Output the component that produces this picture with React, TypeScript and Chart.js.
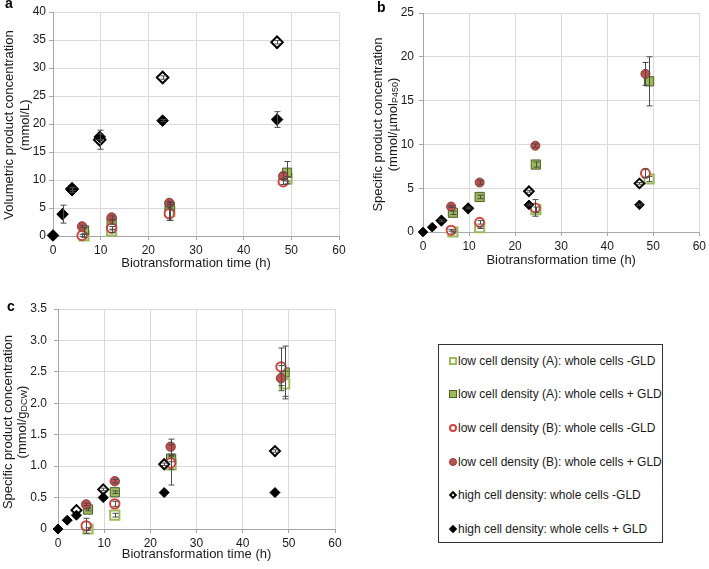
import React, { useEffect, useRef } from "react";
import { Chart, registerables } from "chart.js";
Chart.register(...registerables);

const FONT = '"Liberation Sans", Arial, Helvetica, sans-serif';

// ---------- shared time values (h) ----------
const timesLowA = [6.5, 12.3, 24.5, 49.1];
const timesLowB = [6.1, 12.3, 24.4, 48.3];
const timesHighOpen = [4, 9.8, 23, 47];
const timesHighFilled = [0, 2, 4, 9.8, 23, 47];
const xTickValues = [0, 10, 20, 30, 40, 50, 60];

const seriesNames = [
  "low cell density (A): whole cells -GLD",
  "low cell density (A): whole cells + GLD",
  "low cell density (B): whole cells -GLD",
  "low cell density (B): whole cells + GLD",
  "high cell density: whole cells -GLD",
  "high cell density: whole cells + GLD",
];

// ---------- panel a: volumetric (mmol/L) ----------
const aLowAMinus = [0.0, 0.9, 4.4, 10.2];
const aLowAMinusErr = [0.3, 0.3, 1.6, 0.4];
const aLowAPlus = [1.0, 2.5, 5.2, 11.3];
const aLowAPlusErr = [0.5, 0.4, 0.4, 2.0];
const aLowBMinus = [0.1, 1.4, 4.0, 9.7];
const aLowBMinusErr = [0.2, 0.3, 1.2, 0.5];
const aLowBPlus = [1.7, 3.3, 5.9, 10.7];
const aLowBPlusErr = [0.2, 0.3, 0.3, 0.6];
const aHighMinus = [8.4, 17.2, 28.3, 34.6];
const aHighMinusErr = [0.3, 1.7, 0.3, 0.3];
const aHighPlus = [0.1, 3.9, 8.2, 17.7, 20.6, 20.8];
const aHighPlusErr = [0, 1.6, 0.4, 0.5, 0.2, 1.4];

// ---------- panel b: specific (mmol/µmol P450) ----------
const bLowAMinus = [0.0, 0.5, 2.55, 6.05];
const bLowAMinusErr = [0.1, 0.1, 0.3, 0.3];
const bLowAPlus = [2.2, 4.0, 7.7, 17.2];
const bLowAPlusErr = [0.2, 0.2, 0.3, 2.8];
const bLowBMinus = [0.2, 1.1, 2.75, 6.7];
const bLowBMinusErr = [0.1, 0.2, 0.95, 0.5];
const bLowBPlus = [2.9, 5.65, 9.85, 18.05];
const bLowBPlusErr = [0.1, 0.2, 0.2, 1.3];
const bHighMinus = [1.3, 2.7, 4.65, 5.55];
const bHighMinusErr = [0, 0, 0.1, 0.1];
const bHighPlus = [0.0, 0.55, 1.3, 2.75, 3.1, 3.1];
const bHighPlusErr = [0, 0, 0.1, 0.1, 0.1, 0.1];

// ---------- panel c: specific (mmol/g DCW) ----------
const cLowAMinus = [0.0, 0.22, 1.02, 2.31];
const cLowAMinusErr = [0.02, 0.03, 0.32, 0.2];
const cLowAPlus = [0.31, 0.585, 1.12, 2.49];
const cLowAPlusErr = [0.02, 0.02, 0.05, 0.42];
const cLowBMinus = [0.05, 0.40, 1.05, 2.58];
const cLowBMinusErr = [0.12, 0.04, 0.1, 0.3];
const cLowBPlus = [0.39, 0.76, 1.31, 2.40];
const cLowBPlusErr = [0.02, 0.03, 0.12, 0.2];
const cHighMinus = [0.30, 0.63, 1.03, 1.24];
const cHighMinusErr = [0, 0.02, 0.02, 0.02];
const cHighPlus = [0.0, 0.14, 0.22, 0.50, 0.58, 0.58];
const cHighPlusErr = [0, 0, 0, 0, 0, 0];

// ---------- marker styles ----------
const GREEN = "#9bbb59";
const GREEN_DARK = "#4d5e2b";
const RED = "#c0504d";
const RED_OPEN = "#d0453f";
const RED_DARK = "#8b3a38";

type Series = { x: number[]; y: number[]; err: number[] };

function styleFor(i: number, sizes: { sq: number; ci: number; di: number }) {
  switch (i) {
    case 0:
      return { pointStyle: "rect", pointRadius: sizes.sq, backgroundColor: "#ffffff", borderColor: GREEN, pointBorderWidth: 2 };
    case 1:
      return { pointStyle: "rect", pointRadius: sizes.sq, backgroundColor: GREEN, borderColor: GREEN_DARK, pointBorderWidth: 1 };
    case 2:
      return { pointStyle: "circle", pointRadius: sizes.ci, backgroundColor: "#ffffff", borderColor: RED_OPEN, pointBorderWidth: 2 };
    case 3:
      return { pointStyle: "circle", pointRadius: sizes.ci, backgroundColor: RED, borderColor: RED_DARK, pointBorderWidth: 1 };
    case 4:
      return { pointStyle: "rectRot", pointRadius: sizes.di, backgroundColor: "#ffffff", borderColor: "#000000", pointBorderWidth: 2 };
    default:
      return { pointStyle: "rectRot", pointRadius: sizes.di, backgroundColor: "#000000", borderColor: "#000000", pointBorderWidth: 1 };
  }
}

type Seg = { t: string; sub?: boolean };
type PanelCfg = {
  left: number;
  top: number;
  width: number;
  height: number;
  yMax: number;
  yStep: number;
  yAxisW: number;
  xAxisH: number;
  padRight: number;
  padTop: number;
  yTickPad: number;
  xTitleY: number;
  yTitle: { x: number; dy: number; segs: Seg[] }[];
  sizes: { sq: number; ci: number; di: number };
  series: Series[];
};

const TITLE_SIZE = 13;

function makeAnnot(cfg: PanelCfg) {
  return {
    id: "annot",
    afterDatasetsDraw(chart: any) {
      const ctx = chart.ctx;
      const xs = chart.scales.x;
      const ys = chart.scales.y;
      ctx.save();
      ctx.strokeStyle = "#4a4a4a";
      ctx.lineWidth = 1;
      cfg.series.forEach((s) => {
        s.x.forEach((xv, i) => {
          const e = s.err[i];
          if (!e) return;
          const px = Math.round(xs.getPixelForValue(xv)) + 0.5;
          const yt = ys.getPixelForValue(s.y[i] + e);
          const yb = ys.getPixelForValue(s.y[i] - e);
          ctx.beginPath();
          ctx.moveTo(px, yt);
          ctx.lineTo(px, yb);
          ctx.moveTo(px - 3, yt);
          ctx.lineTo(px + 3, yt);
          ctx.moveTo(px - 3, yb);
          ctx.lineTo(px + 3, yb);
          ctx.stroke();
        });
      });
      ctx.restore();
    },
    afterDraw(chart: any) {
      const ctx = chart.ctx;
      const ca = chart.chartArea;
      ctx.save();
      ctx.fillStyle = "#1a1a1a";
      ctx.textAlign = "center";
      ctx.textBaseline = "middle";
      ctx.font = `${TITLE_SIZE}px ${FONT}`;
      ctx.fillText("Biotransformation time (h)", (ca.left + ca.right) / 2, cfg.xTitleY);
      const cy = (ca.top + ca.bottom) / 2;
      cfg.yTitle.forEach((line) => {
        ctx.save();
        ctx.translate(line.x, cy + line.dy);
        ctx.rotate(-Math.PI / 2);
        ctx.textAlign = "left";
        ctx.textBaseline = "middle";
        let total = 0;
        const widths = line.segs.map((sg) => {
          ctx.font = sg.sub ? `9px ${FONT}` : `${TITLE_SIZE}px ${FONT}`;
          const w = ctx.measureText(sg.t).width;
          total += w;
          return w;
        });
        let x = -total / 2;
        line.segs.forEach((sg, k) => {
          ctx.font = sg.sub ? `9px ${FONT}` : `${TITLE_SIZE}px ${FONT}`;
          ctx.fillText(sg.t, x, sg.sub ? 3 : 0);
          x += widths[k];
        });
        ctx.restore();
      });
      ctx.restore();
    },
  };
}

function Panel({ cfg }: { cfg: PanelCfg }) {
  const ref = useRef<HTMLCanvasElement | null>(null);
  useEffect(() => {
    if (!ref.current) return;
    const datasets = cfg.series.map((s, i) => ({
      label: seriesNames[i],
      data: s.x.map((xv, k) => ({ x: xv, y: s.y[k] })),
      showLine: false,
      clip: false,
      order: 5 - i,
      ...styleFor(i, cfg.sizes),
    }));
    const tickFont = { family: FONT, size: 12 };
    const chart = new Chart(ref.current, {
      type: "scatter",
      data: { datasets } as any,
      plugins: [makeAnnot(cfg) as any],
      options: {
        responsive: false,
        animation: false,
        events: [],
        layout: { padding: { left: 0, right: cfg.padRight, top: cfg.padTop, bottom: 0 } },
        plugins: { legend: { display: false }, tooltip: { enabled: false } },
        scales: {
          x: {
            type: "linear",
            min: 0,
            max: 60,
            afterBuildTicks: (s: any) => {
              s.ticks = xTickValues.map((v) => ({ value: v }));
            },
            ticks: { font: tickFont, color: "#1a1a1a", padding: 3, maxRotation: 0 },
            grid: { color: "#d9d9d9", tickColor: "#a6a6a6", tickLength: 4 },
            border: { color: "#a6a6a6" },
            afterFit: (s: any) => {
              s.height = cfg.xAxisH;
            },
          },
          y: {
            type: "linear",
            min: 0,
            max: cfg.yMax,
            ticks: { stepSize: cfg.yStep, font: tickFont, color: "#1a1a1a", padding: cfg.yTickPad },
            grid: { color: "#d9d9d9", tickColor: "#a6a6a6", tickLength: 4 },
            border: { color: "#a6a6a6" },
            afterFit: (s: any) => {
              s.width = cfg.yAxisW;
            },
          },
        },
      } as any,
    });
    return () => chart.destroy();
  }, [cfg]);
  return (
    <canvas
      ref={ref}
      width={cfg.width}
      height={cfg.height}
      style={{ position: "absolute", left: cfg.left, top: cfg.top, width: cfg.width, height: cfg.height }}
    />
  );
}

const panelA: PanelCfg = {
  left: 0, top: 0, width: 354, height: 290,
  yMax: 40, yStep: 5, yAxisW: 53, xAxisH: 54, padRight: 15, padTop: 12, yTickPad: 3,
  xTitleY: 263,
  yTitle: [
    { x: 9, dy: 1, segs: [{ t: "Volumetric product concentration" }] },
    { x: 25, dy: 1, segs: [{ t: "(mmol/L)" }] },
  ],
  sizes: { sq: 6.5, ci: 4.7, di: 5.8 },
  series: [
    { x: timesLowA, y: aLowAMinus, err: aLowAMinusErr },
    { x: timesLowA, y: aLowAPlus, err: aLowAPlusErr },
    { x: timesLowB, y: aLowBMinus, err: aLowBMinusErr },
    { x: timesLowB, y: aLowBPlus, err: aLowBPlusErr },
    { x: timesHighOpen, y: aHighMinus, err: aHighMinusErr },
    { x: timesHighFilled, y: aHighPlus, err: aHighPlusErr },
  ],
};

const panelB: PanelCfg = {
  left: 360, top: 0, width: 349, height: 290,
  yMax: 25, yStep: 5, yAxisW: 63, xAxisH: 58, padRight: 7, padTop: 13, yTickPad: 5,
  xTitleY: 260,
  yTitle: [
    { x: 18, dy: 2, segs: [{ t: "Specific product concentration" }] },
    { x: 33, dy: 2, segs: [{ t: "(mmol/µmol" }, { t: "P450", sub: true }, { t: ")" }] },
  ],
  sizes: { sq: 6.5, ci: 4.5, di: 4.8 },
  series: [
    { x: timesLowA, y: bLowAMinus, err: bLowAMinusErr },
    { x: timesLowA, y: bLowAPlus, err: bLowAPlusErr },
    { x: timesLowB, y: bLowBMinus, err: bLowBMinusErr },
    { x: timesLowB, y: bLowBPlus, err: bLowBPlusErr },
    { x: timesHighOpen, y: bHighMinus, err: bHighMinusErr },
    { x: timesHighFilled, y: bHighPlus, err: bHighPlusErr },
  ],
};

const panelC: PanelCfg = {
  left: 0, top: 290, width: 360, height: 279,
  yMax: 3.5, yStep: 0.5, yAxisW: 58, xAxisH: 40, padRight: 25, padTop: 19, yTickPad: 7,
  xTitleY: 264,
  yTitle: [
    { x: 8, dy: 3, segs: [{ t: "Specific product concentration" }] },
    { x: 22, dy: 3, segs: [{ t: "(mmol/g" }, { t: "DCW", sub: true }, { t: ")" }] },
  ],
  sizes: { sq: 6.5, ci: 4.7, di: 5 },
  series: [
    { x: timesLowA, y: cLowAMinus, err: cLowAMinusErr },
    { x: timesLowA, y: cLowAPlus, err: cLowAPlusErr },
    { x: timesLowB, y: cLowBMinus, err: cLowBMinusErr },
    { x: timesLowB, y: cLowBPlus, err: cLowBPlusErr },
    { x: timesHighOpen, y: cHighMinus, err: cHighMinusErr },
    { x: timesHighFilled, y: cHighPlus, err: cHighPlusErr },
  ],
};

function LegendMarker({ i }: { i: number }) {
  const base: React.CSSProperties = { position: "absolute", boxSizing: "border-box" };
  let st: React.CSSProperties;
  switch (i) {
    case 0:
      st = { ...base, left: -4, top: -4, width: 8, height: 8, border: `2px solid ${GREEN}`, background: "#fff" };
      break;
    case 1:
      st = { ...base, left: -4, top: -4, width: 8, height: 8, border: `1px solid ${GREEN_DARK}`, background: GREEN };
      break;
    case 2:
      st = { ...base, left: -4, top: -4, width: 8, height: 8, borderRadius: "50%", border: `2px solid ${RED_OPEN}`, background: "#fff" };
      break;
    case 3:
      st = { ...base, left: -4, top: -4, width: 8, height: 8, borderRadius: "50%", border: `1px solid ${RED_DARK}`, background: RED };
      break;
    case 4:
      st = { ...base, left: -3, top: -3, width: 6, height: 6, border: "2px solid #000", background: "#fff", transform: "rotate(45deg)" };
      break;
    default:
      st = { ...base, left: -3, top: -3, width: 6, height: 6, background: "#000", transform: "rotate(45deg)" };
  }
  return <div style={st} />;
}

function Legend() {
  const itemY = [16, 49, 83, 117, 150, 184];
  return (
    <div
      style={{
        position: "absolute",
        left: 438,
        top: 344,
        width: 225,
        height: 199,
        border: "1px solid #333",
        boxSizing: "border-box",
        background: "#fff",
      }}
    >
      {seriesNames.map((name, i) => (
        <div key={i} style={{ position: "absolute", left: 0, top: itemY[i], width: "100%", height: 0 }}>
          <div style={{ position: "absolute", left: 14, top: 0 }}>
            <LegendMarker i={i} />
          </div>
          <div
            style={{
              position: "absolute",
              left: 19,
              top: -8,
              font: `12px ${FONT}`,
              lineHeight: "16px",
              color: "#1a1a1a",
              whiteSpace: "nowrap",
            }}
          >
            {name}
          </div>
        </div>
      ))}
    </div>
  );
}

const letterStyle = (left: number, top: number): React.CSSProperties => ({
  position: "absolute",
  left,
  top,
  font: `bold 14px ${FONT}`,
  lineHeight: "14px",
  color: "#000",
});

export default function App() {
  return (
    <div
      style={{
        position: "absolute",
        left: 0,
        top: 0,
        width: 709,
        height: 569,
        overflow: "hidden",
        background: "#fff",
      }}
    >
      <Panel cfg={panelA} />
      <Panel cfg={panelB} />
      <Panel cfg={panelC} />
      <Legend />
      <div style={letterStyle(5, -4)}>a</div>
      <div style={letterStyle(377, 0)}>b</div>
      <div style={letterStyle(7, 299)}>c</div>
    </div>
  );
}
